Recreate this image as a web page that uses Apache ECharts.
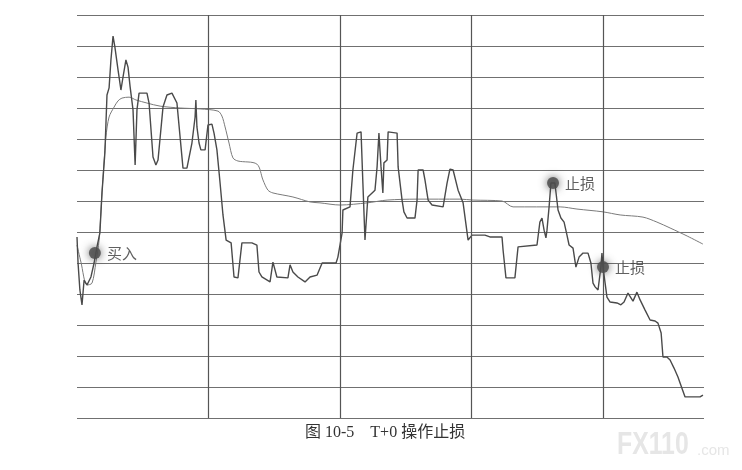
<!DOCTYPE html>
<html><head><meta charset="utf-8">
<script src="https://cdn.jsdelivr.net/npm/echarts@6/dist/echarts.min.js"></script>
<style>html,body{margin:0;padding:0;background:#fff}#c{width:742px;height:470px}</style>
</head><body><div id="c"></div>
<script>
// minute index (x) and price level (y, in grid units) for the price line
const priceX = [0,0.4,1.1,1.9,2.7,3.8,5.3,6.5,7.6,8.7,9.5,10.6,11.4,12.2,12.9,13.7,14.4,15.6,16.7,17.5,18.6,19.4,20.2,21.3,22.1,22.8,23.6,26.6,27.4,28.9,30.0,30.8,32.7,34.2,36.1,38.0,39.2,40.3,41.8,43.7,44.9,45.2,45.6,46.4,47.1,48.7,49.8,51.3,52.1,53.2,54.4,55.5,56.7,58.6,59.7,61.2,62.7,66.5,68.4,69.2,70.3,73.4,74.5,76.0,80.2,81.0,82.1,84.0,86.7,88.6,91.3,93.2,98.5,99.2,100.8,101.1,103.8,104.9,106.5,108.0,108.7,109.5,110.6,113.3,114.1,114.8,115.6,116.3,116.7,117.9,118.3,121.7,122.1,123.6,124.3,125.5,128.5,129.3,129.7,131.6,132.3,133.5,135.0,139.2,140.7,141.8,143.0,144.9,146.8,148.7,150.2,155.1,157.0,161.6,162.0,163.1,166.5,167.7,168.4,174.9,176.0,176.8,177.6,178.3,178.7,179.5,180.2,181.7,182.9,184.0,185.2,186.3,187.1,188.6,189.7,190.9,192.4,194.3,195.4,196.2,197.0,198.1,199.2,199.6,200.0,200.8,201.5,202.7,205.3,206.8,208.0,209.5,211.4,212.9,214.1,216.0,217.9,219.8,220.9,222.1,222.8,224.3,225.5,227.0,228.5,229.3,231.2,236.9,238.0];
const priceY = [5.84,5.0,4.13,3.65,4.45,4.29,4.55,5.0,5.52,5.97,7.26,8.55,10.42,10.65,11.55,12.32,11.97,11.23,10.58,11.0,11.55,11.32,10.68,9.94,8.16,9.94,10.48,10.48,10.16,8.42,8.16,8.32,10.03,10.42,10.48,10.16,9.06,8.06,8.06,8.87,9.71,10.26,9.39,8.87,8.65,8.65,9.45,9.48,9.19,8.65,7.58,6.55,5.74,5.65,4.55,4.52,5.65,5.65,5.58,4.71,4.55,4.39,5.03,4.55,4.52,4.94,4.71,4.55,4.39,4.55,4.61,5.0,5.0,5.19,5.97,6.71,6.81,8.0,9.19,9.23,7.58,5.74,7.13,7.35,8.1,9.19,8.1,7.26,8.23,8.32,9.23,9.19,8.1,7.03,6.65,6.45,6.45,7.03,8.0,8.0,7.68,7.03,6.87,6.81,7.58,8.03,8.0,7.35,6.94,5.74,5.9,5.9,5.84,5.84,5.42,4.52,4.52,5.52,5.58,5.58,6.32,6.45,6.06,5.81,6.06,6.81,7.58,7.58,6.71,6.45,6.32,5.9,5.58,5.48,4.87,5.19,5.32,5.32,5.0,4.35,4.23,4.13,4.87,5.32,4.87,4.35,3.9,3.74,3.71,3.65,3.74,4.03,3.77,4.06,3.81,3.48,3.16,3.13,3.06,2.74,1.97,1.97,1.87,1.61,1.32,1.13,0.68,0.68,0.74];
// average price line
const avgX = [0,1.5,3.8,5.7,7.2,8.4,9.5,11.0,12.2,14.1,15.6,17.1,19.8,22.4,26.6,31.6,39.2,46.8,53.6,55.1,56.3,57.8,59.3,61.2,68.4,70.7,72.6,74.5,82.1,88.6,92.4,100.0,110.3,117.9,129.3,145.6,150.6,161.6,165.8,183.7,190.1,200.0,206.5,215.2,220.5,225.5,232.0,238.0];
const avgY = [5.58,5.03,4.29,4.35,5.03,5.74,7.26,9.06,9.71,10.03,10.23,10.32,10.35,10.26,10.16,10.06,10.0,9.97,9.9,9.74,9.39,8.87,8.39,8.29,8.19,7.68,7.35,7.26,7.13,6.97,6.94,6.87,6.94,7.03,7.06,7.06,7.03,7.0,6.81,6.81,6.74,6.65,6.55,6.48,6.32,6.13,5.87,5.61];
// trade markers
const markNames = ['买入','止损','止损'];
const markX = [6.8,181.0,200.0];
const markY = [5.32,7.58,4.87];
// vertical divider positions (minutes)
const vLines = [50,100,150,200];
const caption = '图 10-5\u3000T+0 操作止损';

const zip = (a,b)=>a.map((v,i)=>[v,b[i]]);
const chart = echarts.init(document.getElementById('c'));
chart.setOption({
  animation:false,
  grid:{left:77,right:38,top:15,bottom:52},
  xAxis:{type:'value',min:0,max:238.4,show:true,axisLine:{show:false},axisTick:{show:false},axisLabel:{show:false},splitLine:{show:false}},
  yAxis:{type:'value',min:0,max:13,interval:1,axisLine:{show:false},axisTick:{show:false},axisLabel:{show:false},
    splitLine:{show:true,lineStyle:{color:'#707070',width:1.2}}},
  series:[
    {type:'line',data:zip(avgX,avgY),symbol:'none',smooth:0.3,lineStyle:{color:'#7a7a7a',width:1},z:3,
      markLine:{silent:true,symbol:'none',label:{show:false},lineStyle:{color:'#555',width:1.2,type:'solid'},
        data:vLines.map(v=>({xAxis:v}))}},
    {type:'line',data:zip(priceX,priceY),symbol:'none',lineStyle:{color:'#4a4a4a',width:1.4},z:4},
    {type:'scatter',data:markX.map((v,i)=>({value:[v,markY[i]],name:markNames[i]})),symbolSize:12,z:5,
      itemStyle:{color:'#4d4d4d',shadowBlur:8,shadowColor:'rgba(60,60,60,0.9)',opacity:0.85},
      label:{show:true,position:'right',distance:6,formatter:p=>p.name,color:'#444',fontSize:15,fontFamily:'Noto Sans CJK SC'}}
  ],
  graphic:[
    {type:'text',left:305,top:425,style:{text:caption,fontSize:16,fill:'#333',fontFamily:'Liberation Serif, Noto Sans CJK SC'}},
    {type:'text',left:617,top:430,scaleX:0.8,style:{text:'FX110',fontSize:31,fontWeight:'bold',fill:'#e6e6e6',fontFamily:'Liberation Sans'}},
    {type:'text',left:697,top:443,style:{text:'.com',fontSize:15,fill:'#e6e6e6',fontFamily:'Liberation Sans'}}
  ]
});
</script></body></html>
